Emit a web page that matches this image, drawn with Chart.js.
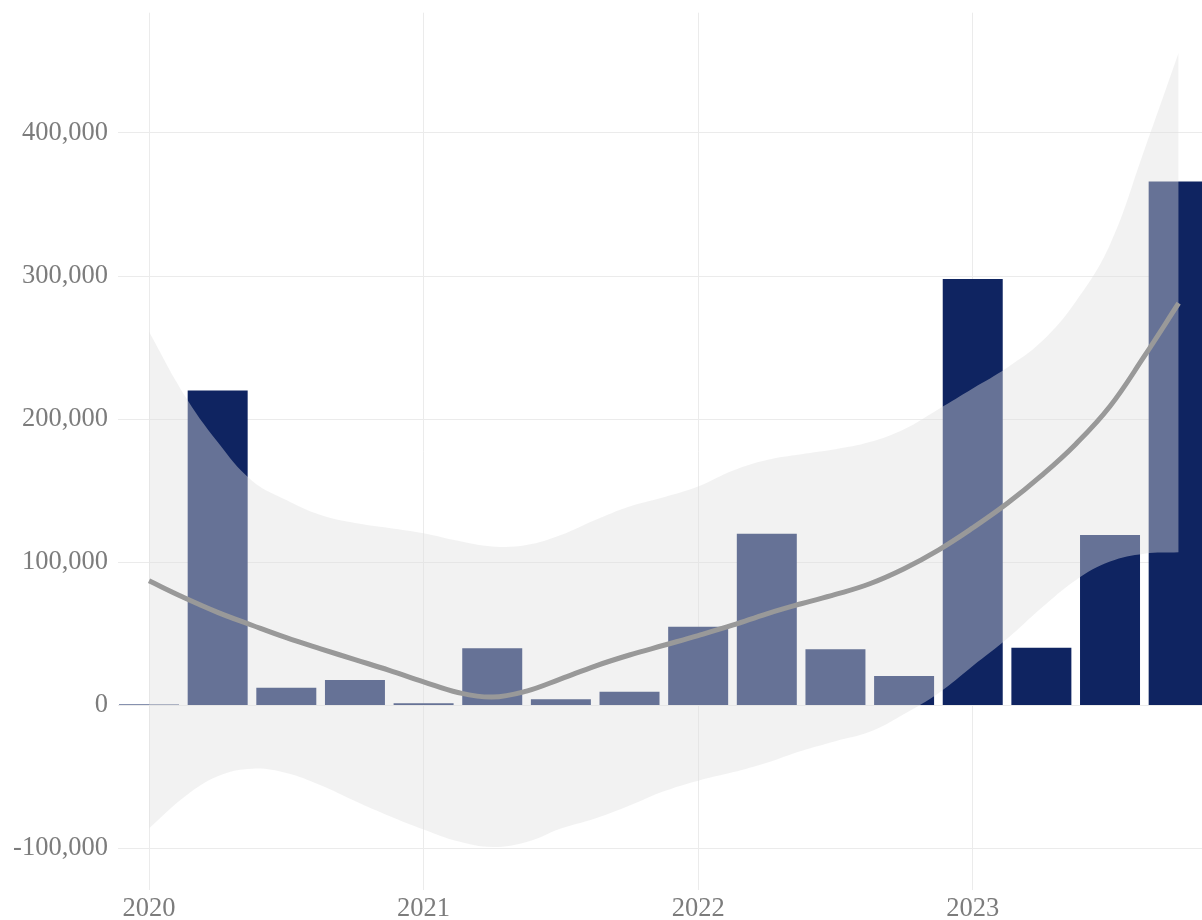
<!DOCTYPE html>
<html>
<head>
<meta charset="utf-8">
<script src="https://cdn.jsdelivr.net/npm/chart.js@4.4.1/dist/chart.umd.min.js"></script>
<style>
  html, body { margin: 0; padding: 0; background: #fff; }
  #wrap { width: 1202px; height: 920px; position: relative; }
</style>
</head>
<body>
<div id="wrap"><canvas id="chart"></canvas></div>
<script>
// quarterly totals, x = year + quarter fraction
const quarters = [2020, 2020.25, 2020.5, 2020.75, 2021, 2021.25, 2021.5, 2021.75,
                  2022, 2022.25, 2022.5, 2022.75, 2023, 2023.25, 2023.5, 2023.75];
const quarterValues = [700, 220000, 12300, 17700, 1500, 40000, 4200, 9500,
                       55000, 120000, 39200, 20500, 298000, 40300, 119000, 366000];

// smoothed trend + confidence band, read every 1/8 year
const trendX = [2020, 2020.125, 2020.25, 2020.375, 2020.5, 2020.625, 2020.75, 2020.875,
                2021, 2021.125, 2021.25, 2021.375, 2021.5, 2021.625, 2021.75, 2021.875,
                2022, 2022.125, 2022.25, 2022.375, 2022.5, 2022.625, 2022.75, 2022.875,
                2023, 2023.125, 2023.25, 2023.375, 2023.5, 2023.625, 2023.75];
const trendLine = [87000, 75500, 65000, 56000, 47300, 39500, 32000, 24500,
                   16500, 9000, 5800, 10000, 18500, 27500, 35200, 42000,
                   48800, 56000, 64000, 71000, 77500, 85000, 95500, 108500,
                   124000, 141000, 160500, 182500, 209000, 244000, 281000];
const bandUpper = [261000, 218000, 184000, 157000, 143500, 133000, 127500, 124000,
                   120300, 115000, 111000, 112000, 119000, 129500, 139000, 145500,
                   153000, 164000, 171500, 175500, 179000, 184000, 193000, 207000,
                   221500, 236000, 254000, 282000, 322000, 388000, 456000];
const bandLower = [-86000, -64500, -49500, -44200, -47200, -55800, -66800, -77300,
                   -86700, -95000, -99000, -95500, -86000, -79000, -70000, -60000,
                   -52600, -46800, -40000, -31800, -25000, -18500, -6000, 8500,
                   27500, 46500, 68000, 87500, 100500, 106000, 107000];

const yearTicks = [2020, 2021, 2022, 2023];
const valueTicks = [-100000, 0, 100000, 200000, 300000, 400000];

const pts = (xs, ys) => xs.map((x, i) => ({ x: x, y: ys[i] }));

const tickFont = { family: "'Liberation Serif', 'DejaVu Serif', serif", size: 26.5 };
const tickColor = '#7c7c7c';
const gridColor = '#ebebeb';

new Chart(document.getElementById('chart'), {
  type: 'bar',
  data: {
    datasets: [
      {
        type: 'bar',
        data: pts(quarters, quarterValues),
        backgroundColor: '#0f2461',
        barPercentage: 0.874,
        categoryPercentage: 1,
        order: 3
      },
      {
        type: 'line',
        data: pts(trendX, bandUpper),
        borderWidth: 0,
        pointRadius: 0,
        fill: '+1',
        backgroundColor: 'rgba(225,225,225,0.42)',
        tension: 0.4,
        order: 2
      },
      {
        type: 'line',
        data: pts(trendX, bandLower),
        borderWidth: 0,
        pointRadius: 0,
        fill: false,
        tension: 0.4,
        order: 2
      },
      {
        type: 'line',
        data: pts(trendX, trendLine),
        borderColor: '#999999',
        borderWidth: 5,
        pointRadius: 0,
        fill: false,
        tension: 0.4,
        order: 1
      }
    ]
  },
  options: {
    responsive: true,
    maintainAspectRatio: false,
    animation: false,
    layout: { padding: { top: 12.7, right: 0, left: 0, bottom: 0 } },
    plugins: { legend: { display: false }, tooltip: { enabled: false } },
    scales: {
      x: {
        type: 'linear',
        min: 2019.887,
        max: 2023.835,
        offset: false,
        grid: { color: gridColor, lineWidth: 1, drawTicks: false, offset: false },
        border: { display: false },
        ticks: { font: tickFont, color: tickColor, padding: 3, maxRotation: 0,
                 callback: v => String(v) },
        afterBuildTicks: s => { s.ticks = yearTicks.map(v => ({ value: v })); },
        afterFit: s => { s.height = 30; s.paddingLeft = 0; s.paddingRight = 0; }
      },
      y: {
        min: -129000,
        max: 484000,
        grid: { color: gridColor, lineWidth: 1, drawTicks: false },
        border: { display: false },
        ticks: { font: tickFont, color: tickColor, padding: 10,
                 callback: v => v.toLocaleString('en-US') },
        afterBuildTicks: s => { s.ticks = valueTicks.map(v => ({ value: v })); },
        afterFit: s => { s.width = 118; s.paddingTop = 0; s.paddingBottom = 0; }
      }
    }
  }
});
</script>
</body>
</html>
